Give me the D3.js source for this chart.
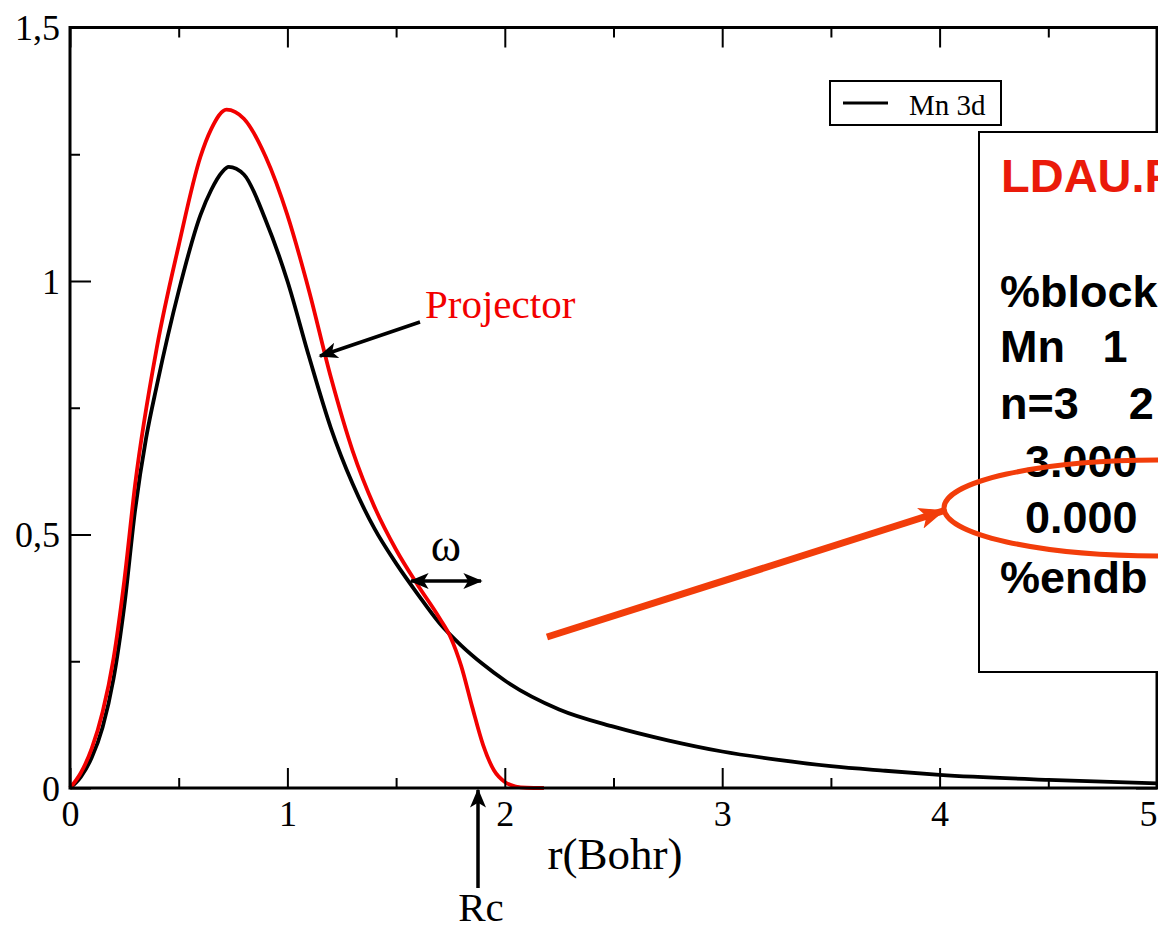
<!DOCTYPE html>
<html>
<head>
<meta charset="utf-8">
<script src="https://cdn.jsdelivr.net/npm/d3@7"></script>
<style>
  html, body { margin: 0; padding: 0; background: #fff; overflow: hidden; }
  svg { display: block; }
</style>
</head>
<body>
<div id="chart"></div>
<script>
// Mn 3d radial function (black)
const rMn = [0, 0.05, 0.1, 0.15, 0.2, 0.25, 0.3, 0.35, 0.4, 0.5, 0.6, 0.65, 0.7, 0.73,
  0.8, 0.9, 1.0, 1.1, 1.2, 1.3, 1.4, 1.5, 1.6, 1.7, 1.8, 1.9, 2.0,
  2.25, 2.5, 2.75, 3.0, 3.25, 3.5, 3.75, 4.0, 4.5, 5.0];
const mn3d = [0, 0.022, 0.06, 0.12, 0.215, 0.36, 0.55, 0.69, 0.795, 0.98, 1.13, 1.18, 1.215, 1.225,
  1.21, 1.12, 1.0, 0.85, 0.71, 0.6, 0.512, 0.443, 0.382, 0.325, 0.281, 0.244, 0.212,
  0.155, 0.121, 0.094, 0.072, 0.056, 0.043, 0.034, 0.026, 0.016, 0.009];

// LDA+U projector (red)
const rProj = [0, 0.05, 0.1, 0.15, 0.2, 0.25, 0.3, 0.4, 0.5, 0.6, 0.65, 0.72,
  0.8, 0.9, 1.0, 1.1, 1.2, 1.3, 1.4, 1.5, 1.6, 1.7, 1.75, 1.8, 1.85,
  1.9, 1.95, 2.0, 2.05, 2.1, 2.18];
const projector = [0, 0.03, 0.078, 0.15, 0.255, 0.41, 0.6, 0.87, 1.07, 1.245, 1.3, 1.338,
  1.32, 1.245, 1.13, 0.98, 0.81, 0.665, 0.555, 0.47, 0.4, 0.335, 0.298, 0.24, 0.16,
  0.085, 0.035, 0.012, 0.003, 0.0005, 0];

const xMajor = [0, 1, 2, 3, 4, 5];
const xMajorLabels = ["0", "1", "2", "3", "4", "5"];
const xMinor = [0.5, 1.5, 2.5, 3.5, 4.5];
const yMajor = [0, 0.5, 1, 1.5];
const yMajorLabels = ["0", "0,5", "1", "1,5"];
const yMinor = [0.25, 0.75, 1.25];

const legendLabel = "Mn 3d";
const boxTitle = "LDAU.P";
const boxLines = ["%block", "Mn   1", "n=3    2", "  3.000", "  0.000", "%endb"];

const width = 1158, height = 932;
const serif = "'Liberation Serif', 'Times New Roman', serif";
const sans = "'Liberation Sans', Arial, sans-serif";
const projRed = "#f20000";
const noteRed = "#f23d0a";

const svg = d3.select("#chart").append("svg")
  .attr("width", width).attr("height", height);

const defs = svg.append("defs");
function marker(id, color, w, h) {
  defs.append("marker")
    .attr("id", id)
    .attr("viewBox", "0 -5 12 10")
    .attr("refX", 11).attr("refY", 0)
    .attr("markerUnits", "userSpaceOnUse")
    .attr("markerWidth", w).attr("markerHeight", h)
    .attr("orient", "auto-start-reverse")
    .append("path")
    .attr("d", "M0,-5L12,0L0,5L3,0Z")
    .attr("fill", color);
}
marker("headBlack", "#000", 20, 16);
marker("headOrange", noteRed, 26, 22);

const x = d3.scaleLinear().domain([0, 5]).range([70, 1157]);
const y = d3.scaleLinear().domain([0, 1.5]).range([788, 27.5]);

const line = d3.line()
  .x((d) => x(d[0]))
  .y((d) => y(d[1]))
  .curve(d3.curveMonotoneX);

// curves
svg.append("path")
  .attr("d", line(d3.zip(rMn, mn3d)))
  .attr("fill", "none").attr("stroke", "#000").attr("stroke-width", 3.8);
svg.append("path")
  .attr("d", line(d3.zip(rProj, projector)))
  .attr("fill", "none").attr("stroke", projRed).attr("stroke-width", 3.8);

// frame + ticks
function styleAxis(g) {
  g.select(".domain").remove();
  g.selectAll("line").attr("stroke", "#000").attr("stroke-width", 2);
  g.selectAll("text").attr("font-family", serif).attr("font-size", 36).attr("fill", "#000");
}

svg.append("g").attr("transform", "translate(0,788)")
  .call(d3.axisBottom(x).tickValues(xMajor).tickSize(-20).tickPadding(12)
    .tickFormat((d, i) => xMajorLabels[i]))
  .call(styleAxis)
  .call((g) => g.selectAll("text").attr("dy", "0.71em").attr("y", 12))
  .call((g) => g.selectAll("text").filter((d) => d === 5).attr("text-anchor", "end"));
svg.append("g").attr("transform", "translate(0,788)")
  .call(d3.axisBottom(x).tickValues(xMinor).tickSize(-10).tickFormat(""))
  .call(styleAxis);
svg.append("g").attr("transform", "translate(0,27.5)")
  .call(d3.axisTop(x).tickValues(xMajor).tickSize(-20).tickFormat(""))
  .call(styleAxis);
svg.append("g").attr("transform", "translate(0,27.5)")
  .call(d3.axisTop(x).tickValues(xMinor).tickSize(-10).tickFormat(""))
  .call(styleAxis);

svg.append("g").attr("transform", "translate(70,0)")
  .call(d3.axisLeft(y).tickValues(yMajor).tickSize(-21).tickPadding(10)
    .tickFormat((d, i) => yMajorLabels[i]))
  .call(styleAxis)
  .call((g) => g.selectAll("text").attr("x", -10).attr("dy", "0.34em"));
svg.append("g").attr("transform", "translate(70,0)")
  .call(d3.axisLeft(y).tickValues(yMinor).tickSize(-10).tickFormat(""))
  .call(styleAxis);
svg.append("g").attr("transform", "translate(1157,0)")
  .call(d3.axisRight(y).tickValues(yMajor).tickSize(-21).tickFormat(""))
  .call(styleAxis);
svg.append("g").attr("transform", "translate(1157,0)")
  .call(d3.axisRight(y).tickValues(yMinor).tickSize(-10).tickFormat(""))
  .call(styleAxis);

svg.append("rect")
  .attr("x", x(0)).attr("y", y(1.5))
  .attr("width", x(5) - x(0)).attr("height", y(0) - y(1.5))
  .attr("fill", "none").attr("stroke", "#000").attr("stroke-width", 3);

// axis title
svg.append("text")
  .attr("x", 615).attr("y", 869)
  .attr("text-anchor", "middle")
  .attr("font-family", serif).attr("font-size", 45)
  .text("r(Bohr)");

// legend
const leg = svg.append("g").attr("transform", "translate(830,81)");
leg.append("rect").attr("width", 171).attr("height", 44)
  .attr("fill", "#fff").attr("stroke", "#000").attr("stroke-width", 2);
leg.append("line").attr("x1", 13).attr("x2", 58).attr("y1", 22).attr("y2", 22)
  .attr("stroke", "#000").attr("stroke-width", 3);
leg.append("text").attr("x", 79).attr("y", 34)
  .attr("font-family", serif).attr("font-size", 29)
  .text(legendLabel);

// annotations: Projector
svg.append("text")
  .attr("x", 425).attr("y", 318)
  .attr("font-family", serif).attr("font-size", 41).attr("fill", projRed)
  .text("Projector");
svg.append("line")
  .attr("x1", 420).attr("y1", 322).attr("x2", 320).attr("y2", 356)
  .attr("stroke", "#000").attr("stroke-width", 3.5)
  .attr("marker-end", "url(#headBlack)");

// omega (cutoff width)
svg.append("text")
  .attr("x", 446).attr("y", 561)
  .attr("text-anchor", "middle")
  .attr("font-family", serif).attr("font-size", 46)
  .text("ω");
svg.append("line")
  .attr("x1", 411).attr("y1", 581).attr("x2", 481).attr("y2", 581)
  .attr("stroke", "#000").attr("stroke-width", 3.5)
  .attr("marker-start", "url(#headBlack)")
  .attr("marker-end", "url(#headBlack)");

// Rc
svg.append("line")
  .attr("x1", 478).attr("y1", 888).attr("x2", 478).attr("y2", 790)
  .attr("stroke", "#000").attr("stroke-width", 3.5)
  .attr("marker-end", "url(#headBlack)");
svg.append("text")
  .attr("x", 481).attr("y", 921)
  .attr("text-anchor", "middle")
  .attr("font-family", serif).attr("font-size", 41)
  .text("Rc");

// input-file box
const box = svg.append("g");
box.append("rect")
  .attr("x", 979).attr("y", 132).attr("width", 240).attr("height", 540)
  .attr("fill", "#fff").attr("stroke", "#000").attr("stroke-width", 2);
box.append("text")
  .attr("x", 1001).attr("y", 192)
  .attr("font-family", sans).attr("font-weight", "bold").attr("font-size", 47)
  .attr("fill", "#ea1a0a")
  .text(boxTitle);
const lineY = [307, 362, 419, 477, 533, 593];
box.selectAll("text.code")
  .data(boxLines)
  .join("text")
  .attr("class", "code")
  .attr("x", 1000)
  .attr("y", (d, i) => lineY[i])
  .attr("font-family", sans).attr("font-weight", "bold").attr("font-size", 45)
  .style("white-space", "pre")
  .text((d) => d);

// ellipse highlight + arrow
svg.append("ellipse")
  .attr("cx", 1158).attr("cy", 508).attr("rx", 214).attr("ry", 48)
  .attr("fill", "none").attr("stroke", noteRed).attr("stroke-width", 5);
svg.append("line")
  .attr("x1", 547).attr("y1", 637).attr("x2", 943).attr("y2", 511)
  .attr("stroke", noteRed).attr("stroke-width", 7)
  .attr("marker-end", "url(#headOrange)");
</script>
</body>
</html>
